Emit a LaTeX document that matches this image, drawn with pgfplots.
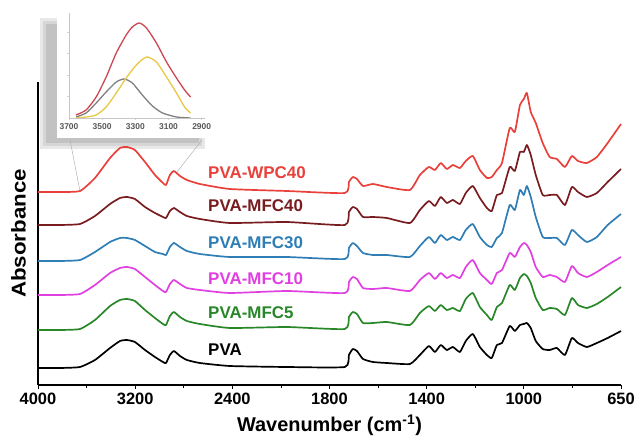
\documentclass[border=0pt]{standalone}
\usepackage{fontspec}
\setmainfont{Liberation Sans}
\newfontfamily\ylfont[FakeStretch=1.12]{Liberation Sans}
\usepackage{pgfplots}
\pgfplotsset{compat=1.18}
\usepackage{pgfplotstable}

\definecolor{cred}{RGB}{232,64,58}
\definecolor{cdred}{RGB}{120,28,32}
\definecolor{cblue}{RGB}{46,125,181}
\definecolor{cmag}{RGB}{224,64,224}
\definecolor{cgreen}{RGB}{40,135,40}
\definecolor{ired}{RGB}{205,70,80}
\definecolor{iyel}{RGB}{232,200,70}
\definecolor{igray}{RGB}{128,128,128}

\pgfplotstableread{
w pva mfc5 mfc10 mfc30 mfc40 wpc40
4000 17 55 90 124 160 193
3819 17 55 90 124 160 193
3654 18 56 91 125 161 194
3531 25 65 100 133 169 207
3407 37 79 112 143 181 227
3325 44 85 117 147 187 237
3267 45 86 118 147 188 238
3202 43 84 116 145 186 235
3119 35 75 108 139 178 223
3037 28 67 100 133 172 210
2971 23 61 94 131 168 202
2946 22 60 93 130 167 200
2914 30 69 101 138 174 210
2881 34 73 105 142 177 214
2831 29 68 101 138 173 209
2774 25 64 97 134 169 205
2667 22 61 95 131 166 201
2420 19 57 92 128 162 196
2063 18 58 94 128 163 194
1737 18 56 92 126 160 192
1720 30 68 103 137 173 203
1704 36 73 108 142 178 208
1687 34 71 106 139 176 206
1662 26 62 97 132 168 199
1621 23 62 96 130 168 201
1564 22 63 97 130 167 198
1469 21 60 94 128 162 195
1428 30 72 105 139 175 210
1391 39 79 112 148 184 218
1366 33 74 106 142 179 215
1342 40 80 112 150 188 222
1317 35 75 107 145 182 216
1292 38 77 110 148 185 220
1263 33 74 107 145 181 217
1239 44 86 118 155 192 224
1210 51 92 125 161 199 229
1181 38 78 112 148 187 215
1152 30 70 105 140 177 207
1132 27 65 101 138 174 208
1111 40 78 112 147 190 215
1090 42 82 115 152 192 222
1058 59 100 132 180 218 257
1037 54 95 128 175 214 253
1016 60 107 138 195 233 280
1000 61 111 142 190 233 286
989 62 109 140 199 240 292
975 57 102 133 188 230 273
957 44 87 118 168 210 262
932 36 75 108 148 190 242
907 35 77 110 147 190 228
881 37 76 108 147 190 226
852 30 70 103 140 180 218
827 47 87 119 155 198 229
805 42 80 112 150 193 224
773 38 77 108 143 188 222
737 42 81 113 148 192 228
698 47 88 120 160 203 242
650 54 98 128 171 216 261
}\spectra

\begin{document}
\begin{tikzpicture}
% inset shadow and panel (behind everything)
\fill[gray!18] (2bp,236bp) rectangle (167bp,367bp);
\fill[gray!32] (5bp,239bp) rectangle (164bp,364bp);
\fill[gray!48] (8bp,242bp) rectangle (161bp,361bp);
\fill[white] (19bp,247bp) rectangle (170bp,372bp);
\draw[gray!60, line width=0.5pt] (32bp,245bp) -- (42bp,194bp);
\draw[gray!60, line width=0.5pt] (164bp,245bp) -- (139bp,213bp);

\begin{axis}[
  at={(0,0)}, anchor=south west,
  width=583bp, height=303bp, scale only axis,
  xmin=0, xmax=6, ymin=0, ymax=303,
  clip=false,
  axis x line=bottom, axis y line=left,
  axis line style={-, line width=1.3pt, black},
  declare function={wmap(\w)=(\w>=3200)*(4000-\w)/800
     + (\w<3200)*(\w>=2400)*(1+(3200-\w)/800)
     + (\w<2400)*(\w>=1800)*(2+(2400-\w)/600)
     + (\w<1800)*(\w>=1400)*(3+(1800-\w)/400)
     + (\w<1400)*(\w>=1000)*(4+(1400-\w)/400)
     + (\w<1000)*(5+(1000-\w)/350);},
  ytick=\empty,
  xtick={0,1,2,3,4,5,6},
  xticklabels={4000,3200,2400,1800,1400,1000,650},
  minor xtick={0.5,1.5,2.5,3.5,4.5,5.5},
  tick align=outside, major tick length=4bp, minor tick length=3bp,
  tick style={black, line width=0.8pt},
  xticklabel style={font=\bfseries\fontsize{16.5}{17}\selectfont},
  xlabel={Wavenumber (cm\textsuperscript{-1})},
  ylabel={Absorbance},
  every axis x label/.style={at={(axis description cs:0.5,-0.155)}, anchor=base,
     font=\bfseries\fontsize{20}{21}\selectfont},
  every axis y label/.style={at={(axis description cs:-0.0334,0.5)}, anchor=center, rotate=90,
     font=\ylfont\bfseries\fontsize{20}{21}\selectfont},
  every axis plot/.append style={line width=1.7pt, no markers, line join=round, smooth, tension=0.3},
]
\addplot[black]  table[x expr={wmap(\thisrow{w})}, y=pva]   {\spectra};
\addplot[cgreen] table[x expr={wmap(\thisrow{w})}, y=mfc5]  {\spectra};
\addplot[cmag]   table[x expr={wmap(\thisrow{w})}, y=mfc10] {\spectra};
\addplot[cblue]  table[x expr={wmap(\thisrow{w})}, y=mfc30] {\spectra};
\addplot[cdred]  table[x expr={wmap(\thisrow{w})}, y=mfc40] {\spectra};
\addplot[cred]   table[x expr={wmap(\thisrow{w})}, y=wpc40] {\spectra};

\begin{scope}[every node/.style={anchor=west, inner sep=0pt, font=\bfseries\fontsize{17}{18}\selectfont}]
\node[text=cred]   at (axis cs:1.75,212.5) {PVA-WPC40};
\node[text=cdred]  at (axis cs:1.75,179) {PVA-MFC40};
\node[text=cblue]  at (axis cs:1.75,142) {PVA-MFC30};
\node[text=cmag]   at (axis cs:1.75,106) {PVA-MFC10};
\node[text=cgreen] at (axis cs:1.75,72)  {PVA-MFC5};
\node[text=black]  at (axis cs:1.75,35)  {PVA};
\end{scope}
\end{axis}

\begin{axis}[
  at={(31bp,267bp)}, anchor=south west,
  width=136bp, height=105bp, scale only axis,
  xmin=2880, xmax=3700, x dir=reverse, ymin=0, ymax=105,
  axis x line=bottom, axis y line=left,
  axis line style={-, gray!45, line width=0.6pt},
  xtick={3700,3500,3300,3100,2900},
  xticklabels={3700,3500,3300,3100,2900},
  ytick={21.5,43,64.5,86}, yticklabels={},
  tick align=outside, major tick length=2bp,
  tick style={gray!35, line width=0.5pt},
  xticklabel style={font=\bfseries\fontsize{8.5}{9}\selectfont, text=black!65},
  every axis plot/.append style={line width=1.3pt, no markers, line join=round, smooth, tension=0.4},
]
\addplot[igray] coordinates {(3658,1) (3597,5) (3536,15) (3476,26) (3415,36) (3367,39) (3318,35) (3258,23) (3197,12) (3136,5) (3052,1) (2967,0)};
\addplot[iyel] coordinates {(3658,0) (3597,1) (3536,3) (3476,11) (3415,25) (3355,40) (3294,53) (3233,61) (3173,56) (3112,41) (3052,25) (3003,11) (2967,5)};
\addplot[ired] coordinates {(3658,3) (3597,8) (3536,21) (3476,41) (3415,65) (3355,83) (3318,91) (3276,95) (3233,90) (3173,75) (3112,56) (3052,40) (3003,28) (2967,21)};
\end{axis}

\pgfresetboundingbox
\path[use as bounding box] (-38bp,-54bp) rectangle (596bp,385bp);
\end{tikzpicture}
\end{document}
